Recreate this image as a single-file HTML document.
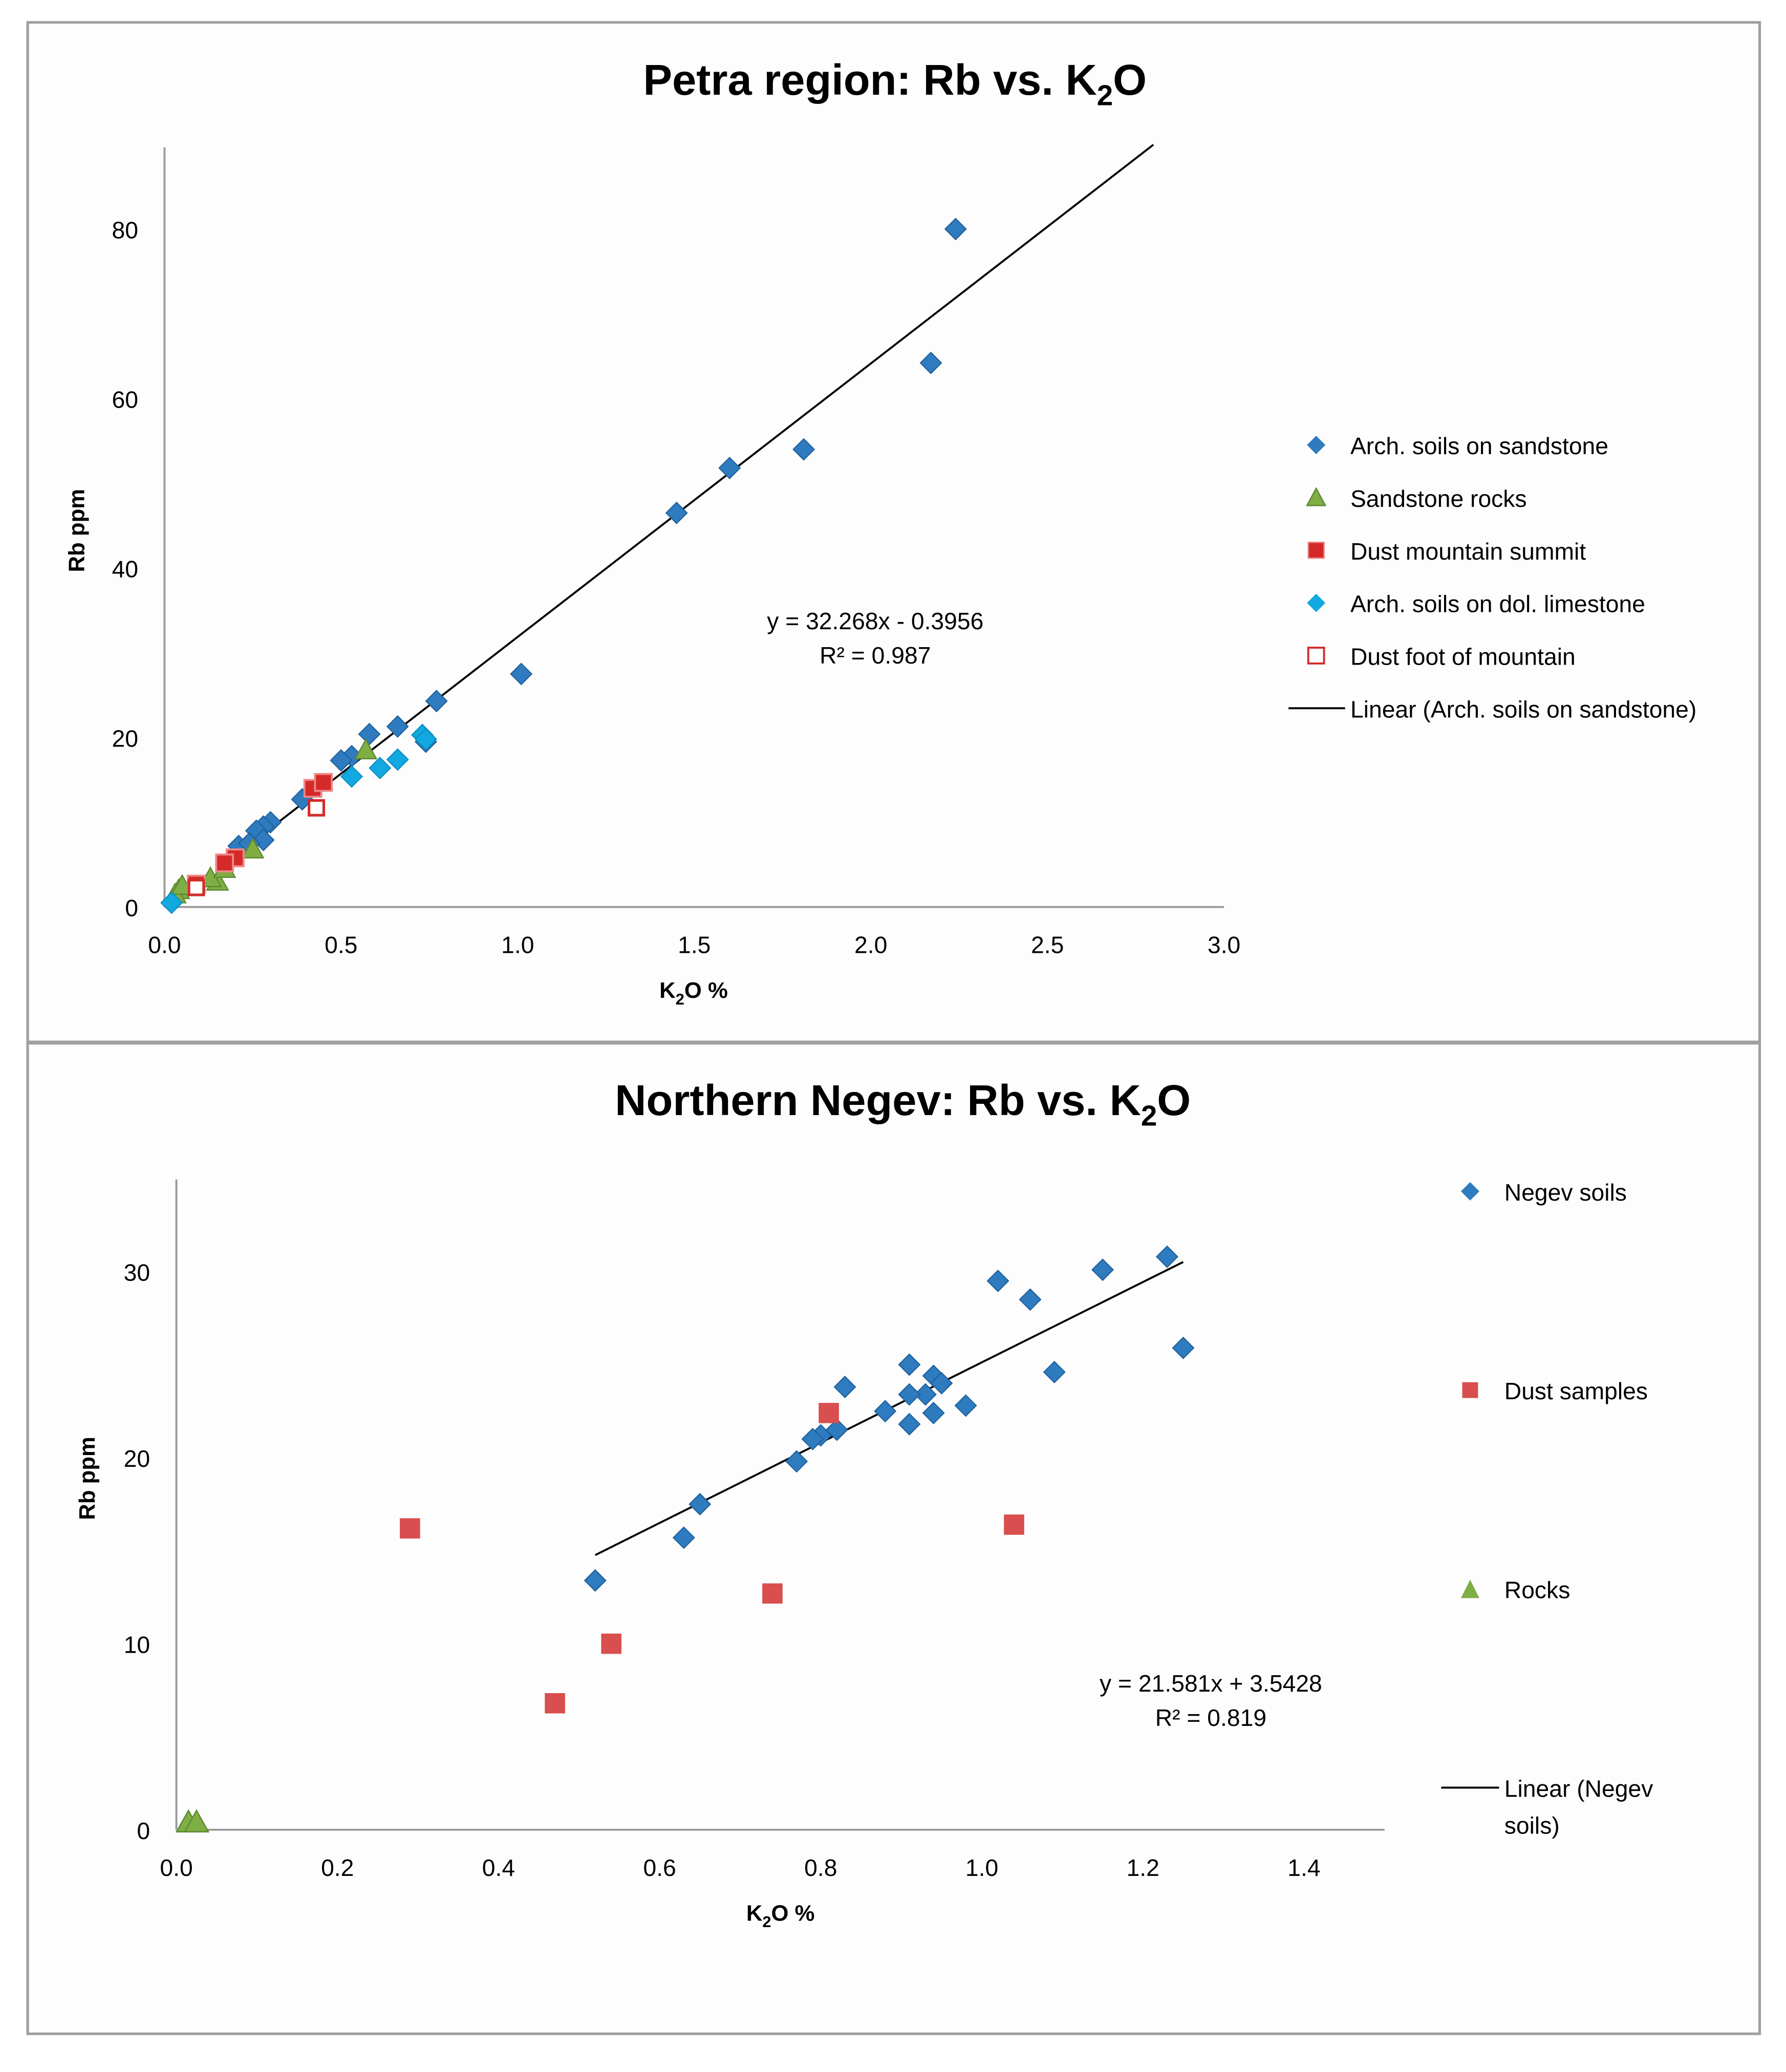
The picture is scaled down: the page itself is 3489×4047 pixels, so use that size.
<!DOCTYPE html>
<html><head><meta charset="utf-8"><style>
html,body{margin:0;padding:0;background:#fff}
svg{display:block;font-family:"Liberation Sans",sans-serif}
</style></head><body>
<svg id="svg" width="3489" height="4047" viewBox="0 0 1357 1574" xmlns="http://www.w3.org/2000/svg">
<rect x="0" y="0" width="1357" height="1574" fill="#fff"/>
<rect x="21" y="17" width="1316" height="1528" fill="#fdfdfd" stroke="#a0a0a0" stroke-width="2"/>
<line x1="21" y1="792" x2="1337" y2="792" stroke="#a0a0a0" stroke-width="3"/>
<text x="680" y="72" text-anchor="middle" font-size="33" font-weight="bold">Petra region: Rb vs. K<tspan font-size="22" dy="8">2</tspan><tspan dy="-8">O</tspan></text>
<text x="686" y="847" text-anchor="middle" font-size="33" font-weight="bold">Northern Negev: Rb vs. K<tspan font-size="22" dy="8">2</tspan><tspan dy="-8">O</tspan></text>
<g id="topchart"></g><g id="botchart"></g>
</svg>
<script>
// ---- Top chart data ----
const topXTicks=[0,0.5,1.0,1.5,2.0,2.5,3.0];
const topYTicks=[0,20,40,60,80];
const sandSoilX=[2.24,2.17,1.81,1.60,1.45,1.01,0.77,0.66,0.58,0.74,0.53,0.50,0.39,0.30,0.28,0.26,0.28,0.21,0.24];
const sandSoilY=[80,64.2,54,51.8,46.5,27.5,24.3,21.3,20.4,19.5,17.8,17.3,12.7,10,9.5,9,7.9,7.2,7.5];
const rockX=[0.57,0.25,0.15,0.13,0.17,0.04,0.03,0.05];
const rockY=[18.5,6.8,3,3.4,4.5,2,1.5,2.5];
const summitX=[0.42,0.45,0.20,0.17,0.09];
const summitY=[14,14.7,5.8,5.2,2.7];
const dolX=[0.73,0.74,0.66,0.61,0.53,0.02];
const dolY=[20.3,19.8,17.4,16.4,15.4,0.5];
const footX=[0.43,0.09];
const footY=[11.7,2.3];
const topTrend=[32.268,-0.3956];
const topTrendRange=[0.2,2.8];
// ---- Bottom chart data ----
const botXTicks=[0,0.2,0.4,0.6,0.8,1.0,1.2,1.4];
const botYTicks=[0,10,20,30];
const negevX=[1.23,1.15,1.02,1.06,1.25,1.09,0.91,0.94,0.95,0.93,0.91,0.83,0.88,0.98,0.94,0.91,0.82,0.80,0.79,0.77,0.65,0.63,0.52];
const negevY=[30.8,30.1,29.5,28.5,25.9,24.6,25,24.4,24,23.4,23.4,23.8,22.5,22.8,22.4,21.8,21.5,21.2,21,19.8,17.5,15.7,13.4];
const dustX=[0.81,0.29,1.04,0.74,0.54,0.47];
const dustY=[22.4,16.2,16.4,12.7,10,6.8];
const rocksX=[0.015,0.025];
const rocksY=[0.4,0.4];
const botTrend=[21.581,3.5428];
const botTrendRange=[0.52,1.25];

const NS="http://www.w3.org/2000/svg";
function mk(p,t,a){const e=document.createElementNS(NS,t);for(const k in a)e.setAttribute(k,a[k]);p.appendChild(e);return e;}
function marker(g,type,cx,cy,s){
 let e;
 if(type==='diamond'){e=mk(g,'polygon',{points:`${cx},${cy-s} ${cx+s},${cy} ${cx},${cy+s} ${cx-s},${cy}`,fill:'#2e7bbf',stroke:'#1f5f99','stroke-width':0.8});}
 else if(type==='cyan'){e=mk(g,'polygon',{points:`${cx},${cy-s} ${cx+s},${cy} ${cx},${cy+s} ${cx-s},${cy}`,fill:'#12a8e0',stroke:'#0a8cc0','stroke-width':0.8});}
 else if(type==='tri'){e=mk(g,'polygon',{points:`${cx},${cy-s} ${cx+s},${cy+s*0.8} ${cx-s},${cy+s*0.8}`,fill:'#7fae45',stroke:'#5f8a30','stroke-width':1});}
 else if(type==='sq'){e=mk(g,'rect',{x:cx-s*0.8,y:cy-s*0.8,width:s*1.6,height:s*1.6,fill:'#d42a2a',stroke:'#e88','stroke-width':1.5});}
 else if(type==='sq2'){e=mk(g,'rect',{x:cx-s*0.8,y:cy-s*0.8,width:s*1.6,height:s*1.6,fill:'#d94e4e',stroke:'#d94e4e','stroke-width':1});}
 else if(type==='open'){e=mk(g,'rect',{x:cx-s*0.7,y:cy-s*0.7,width:s*1.4,height:s*1.4,fill:'#fff',stroke:'#d42a2a','stroke-width':2});}
 return e;
}
function chart(g,cfg){
 const sx=v=>cfg.x0+(v-cfg.xmin)/(cfg.xmax-cfg.xmin)*(cfg.x1-cfg.x0);
 const sy=v=>cfg.y0-(v/cfg.ymax)*(cfg.y0-cfg.y1);
 const ax=mk(g,'line',{x1:cfg.x0,y1:cfg.y0,x2:cfg.x1,y2:cfg.y0,stroke:'#999','stroke-width':1.5});
 
 
 const ay=mk(g,'line',{x1:cfg.x0,y1:cfg.y0,x2:cfg.x0,y2:cfg.ytop,stroke:'#999','stroke-width':1.5});
 
 
 cfg.xt.forEach(v=>{const t=mk(g,'text',{x:sx(v),y:cfg.y0+35,'text-anchor':'middle','font-size':18});t.textContent=v.toFixed(1);
  
  });
 cfg.yt.forEach(v=>{const t=mk(g,'text',{x:cfg.x0-20,y:sy(v)+7,'text-anchor':'end','font-size':18});t.textContent=v;
  
  });
 const tr=cfg.trend,rg=cfg.range;
 const l=mk(g,'line',{x1:sx(rg[0]),y1:sy(tr[0]*rg[0]+tr[1]),x2:sx(rg[1]),y2:sy(tr[0]*rg[1]+tr[1]),stroke:'#000','stroke-width':1.5});
 
 
 cfg.series.forEach(s=>{s.x.forEach((xv,i)=>{const m=marker(g,s.type,sx(xv),sy(s.y[i]),s.size||8);
  
  });});
}
const topG=document.getElementById('topchart'),botG=document.getElementById('botchart');
chart(topG,{x0:125,x1:930,xmin:0,xmax:3,y0:689,y1:174,ymax:80,ytop:112,xt:topXTicks,yt:topYTicks,trend:topTrend,range:topTrendRange,
 series:[{x:sandSoilX,y:sandSoilY,type:'diamond',name:'arch-soil-sandstone'},{x:rockX,y:rockY,type:'tri',name:'sandstone-rock'},
 {x:summitX,y:summitY,type:'sq',name:'dust-summit'},{x:dolX,y:dolY,type:'cyan',name:'arch-soil-dol-limestone'},{x:footX,y:footY,type:'open',name:'dust-foot'}]});
chart(botG,{x0:134,x1:1052,xmin:0,xmax:1.5,y0:1390,y1:966,ymax:30,ytop:896,xt:botXTicks,yt:botYTicks,trend:botTrend,range:botTrendRange,
 series:[{x:negevX,y:negevY,type:'diamond',name:'negev-soil'},{x:dustX,y:dustY,type:'sq2',name:'dust-sample',size:9},{x:rocksX,y:rocksY,type:'tri',name:'rock',size:9}]});
</script>
<script>
(function(){
 const svg=document.getElementById('svg');
 function T(x,y,txt,fs,anchor,name,extra){const e=document.createElementNS("http://www.w3.org/2000/svg",'text');
  e.setAttribute('x',x);e.setAttribute('y',y);e.setAttribute('font-size',fs);e.setAttribute('text-anchor',anchor||'start');
  if(extra)for(const k in extra)e.setAttribute(k,extra[k]);
  e.innerHTML=txt;
  
  
  svg.appendChild(e);return e;}
 T(527,758,'K<tspan font-size="12" dy="5">2</tspan><tspan dy="-5">O %</tspan>',17,'middle','top-x-axis-title',{'font-weight':'bold'});
 T(64,403,'Rb ppm',17,'middle','top-y-axis-title',{'font-weight':'bold',transform:'rotate(-90 64 403)'});
 T(665,478,'y = 32.268x - 0.3956',18,'middle','top-equation');
 T(665,504,'R² = 0.987',18,'middle','top-r-squared');
 T(593,1459,'K<tspan font-size="12" dy="5">2</tspan><tspan dy="-5">O %</tspan>',17,'middle','bottom-x-axis-title',{'font-weight':'bold'});
 T(72,1123,'Rb ppm',17,'middle','bottom-y-axis-title',{'font-weight':'bold',transform:'rotate(-90 72 1123)'});
 T(920,1285,'y = 21.581x + 3.5428',18,'middle','bottom-equation');
 T(920,1311,'R² = 0.819',18,'middle','bottom-r-squared');
 const legTop=[['Arch. soils on sandstone',338],['Sandstone rocks',378],['Dust mountain summit',418],['Arch. soils on dol. limestone',458],['Dust foot of mountain',498],['Linear (Arch. soils on sandstone)',538]];
 legTop.forEach(l=>T(1026,l[1]+7,l[0],18,'start','top-legend-label'));
 const legBot=[['Negev soils',905],['Dust samples',1056],['Rocks',1207],['Linear (Negev',1358],['soils)',1386]];
 legBot.forEach(l=>T(1143,l[1]+7,l[0],18,'start','bottom-legend-label'));
 const NS2="http://www.w3.org/2000/svg";
 function add(t,a,name){const e=document.createElementNS(NS2,t);for(const k in a)e.setAttribute(k,a[k]);
  
  
  svg.appendChild(e);}
 add('polygon',{points:'1000,331 1007,338 1000,345 993,338',fill:'#2e7bbf'},'legend-marker-sandstone-soil');
 add('polygon',{points:'1000,371 1007,384 993,384',fill:'#7fae45',stroke:'#5f8a30'},'legend-marker-sandstone-rock');
 add('rect',{x:994,y:412,width:12,height:12,fill:'#d42a2a',stroke:'#e88'},'legend-marker-dust-summit');
 add('polygon',{points:'1000,451 1007,458 1000,465 993,458',fill:'#12a8e0'},'legend-marker-dol-limestone');
 add('rect',{x:994,y:492,width:12,height:12,fill:'#fff',stroke:'#d42a2a','stroke-width':1.5},'legend-marker-dust-foot');
 add('line',{x1:979,y1:538,x2:1022,y2:538,stroke:'#000','stroke-width':1.5},'legend-marker-trend-top');
 add('polygon',{points:'1117,898 1124,905 1117,912 1110,905',fill:'#2e7bbf'},'legend-marker-negev-soil');
 add('rect',{x:1111,y:1050,width:12,height:12,fill:'#d94e4e'},'legend-marker-dust-sample');
 add('polygon',{points:'1117,1200 1124,1214 1110,1214',fill:'#7fae45'},'legend-marker-rocks');
 add('line',{x1:1095,y1:1358,x2:1139,y2:1358,stroke:'#000','stroke-width':1.5},'legend-marker-trend-bottom');
})();
</script>
</body></html>
